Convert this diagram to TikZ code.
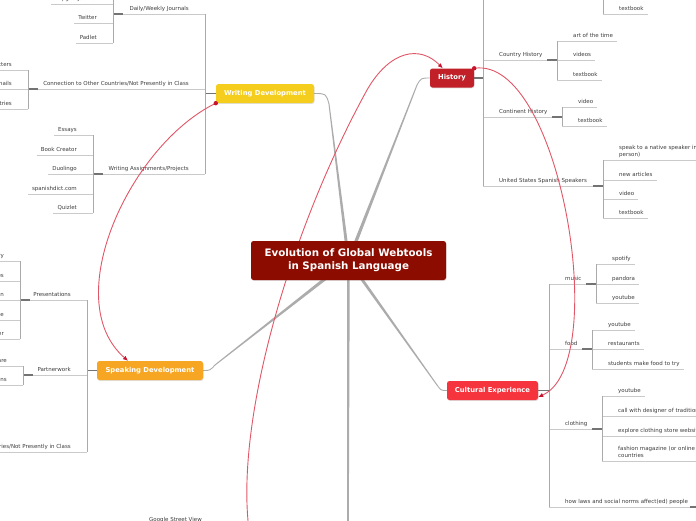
\documentclass[tikz,border=0pt]{standalone}
\usepackage{fontspec}
\setmainfont{DejaVu Sans}
\usepackage{tikz}
\usetikzlibrary{arrows.meta,positioning,calc,shadows}
\pgfdeclarelayer{front}
\pgfsetlayers{main,front}

\definecolor{rootred}{RGB}{140,12,0}
\definecolor{histred}{RGB}{193,32,40}
\definecolor{writeyel}{RGB}{245,205,28}
\definecolor{speakorg}{RGB}{246,166,35}
\definecolor{cultred}{RGB}{246,52,62}
\definecolor{relred}{RGB}{224,86,102}
\definecolor{dotred}{RGB}{200,20,45}
\definecolor{linkgray}{RGB}{172,172,172}
\definecolor{ulgray}{RGB}{202,202,202}
\definecolor{spinegray}{RGB}{170,170,170}
\definecolor{juncgray}{RGB}{115,115,115}
\definecolor{leafgray}{RGB}{60,60,60}

\tikzset{
  leaf/.style={inner xsep=4pt,inner ysep=0pt,text height=4pt,text depth=3.6pt,
    align=left,text=leafgray,font=\fontsize{5.5}{6.8}\selectfont},
  uline/.style={draw=ulgray,line width=0.8pt},
  spine/.style={draw=spinegray,line width=0.8pt},
  junc/.style={draw=juncgray,line width=1.1pt},
  topic/.style={rounded corners=2.5pt,minimum height=19pt,inner sep=0pt,text=white,
    font=\fontsize{6.8}{8}\selectfont\bfseries,
    drop shadow={shadow xshift=0.5pt,shadow yshift=-0.9pt,opacity=0.25}},
  rootbox/.style={topic,fill=rootred,minimum width=195pt,minimum height=39pt,
    align=center,font=\fontsize{10.3}{12.8}\selectfont\bfseries},
  relation/.style={draw=relred,line width=0.9pt,
    -{Latex[length=5pt,width=4.5pt,color=dotred]}},
}

% leaf on the right / left of a spine: name, spine, y, text
\newcommand{\rleaf}[4]{%
  \node[leaf,anchor=south west,xshift=12pt] (#1) at (#2 |- 0,#3) {#4};
  \draw[uline] (#2 |- #1.south) -- (#1.south east);}
\newcommand{\lleaf}[4]{%
  \node[leaf,anchor=south east,xshift=-12pt] (#1) at (#2 |- 0,#3) {#4};
  \draw[uline] (#1.south west) -- (#2 |- #1.south);}
% subtopic: name, parent spine, child spine, y, text
\newcommand{\rsub}[5]{%
  \node[leaf,anchor=south west,xshift=12pt] (#1) at (#2 |- 0,#4) {#5};
  \draw[uline] (#2 |- #1.south) -- (#3 |- #1.south);
  \draw[junc] ($(#3 |- #1.south)+(-10,0)$) -- (#3 |- #1.south);}
\newcommand{\lsub}[5]{%
  \node[leaf,anchor=south east,xshift=-12pt] (#1) at (#2 |- 0,#4) {#5};
  \draw[uline] (#3 |- #1.south) -- (#2 |- #1.south);
  \draw[junc] (#3 |- #1.south) -- ($(#3 |- #1.south)+(10,0)$);}
% tapered link: from, to, half width at start, half width at end
\newcommand{\taper}[4]{%
  \fill[linkgray] ($(#1)!#3!90:(#2)$) -- ($(#2)!#4!-90:(#1)$)
    -- ($(#2)!#4!90:(#1)$) -- ($(#1)!#3!-90:(#2)$) -- cycle;}

\begin{document}
\begin{tikzpicture}[x=1pt,y=-1pt]
  \useasboundingbox (0,0) rectangle (696,520);

  % Main topics
  \begin{pgfonlayer}{front}
    \node[rootbox] (root) at (348.5,260.5) {Evolution of Global Webtools\\in Spanish Language};
    \node[topic,fill=writeyel,minimum width=98pt] (write) at (265,93.5) {Writing Development};
    \node[topic,fill=speakorg,minimum width=106pt] (speak) at (150,370.5) {Speaking Development};
    \node[topic,fill=histred,minimum width=44pt] (hist) at (452,78) {History};
    \node[topic,fill=cultred,minimum width=91pt] (cult) at (492.5,390.5) {Cultural Experience};
  \end{pgfonlayer}

  % Main links
  \coordinate (kW) at (329,104);
  \coordinate (kH) at (417,85);
  \coordinate (kS) at (215,365);
  \coordinate (kC) at (437,385);
  \coordinate (down) at (348,525);
  \taper{root.center}{kW}{1.6pt}{0.5pt}
  \taper{root.center}{kH}{1.8pt}{0.5pt}
  \taper{root.center}{kS}{1.8pt}{0.5pt}
  \taper{root.center}{kC}{1.6pt}{0.5pt}
  \taper{root.center}{down}{1.3pt}{0.8pt}
  \draw[linkgray,line width=0.9pt] (kW) .. controls (326,93.5) .. (write.east);
  \draw[linkgray,line width=0.9pt] (kH) .. controls (421,78) .. (hist.west);
  \draw[linkgray,line width=0.9pt] (kS) .. controls (210,370.5) .. (speak.east);
  \draw[linkgray,line width=0.9pt] (kC) .. controls (441,390.5) .. (cult.west);

  % Writing Development
  \coordinate (W) at (205,93.5);
  \coordinate (wdx) at (113,0);
  \coordinate (wcx) at (28,0);
  \coordinate (wax) at (93,0);
  \draw[junc] (write.west) -- (W);
  \lsub{wd}{W}{wdx}{14}{Daily/Weekly Journals}
  \lsub{wc}{W}{wcx}{89}{Connection to Other Countries/Not Presently in Class}
  \lsub{wa}{W}{wax}{174}{Writing Assignments/Projects}
  \draw[spine] (W |- wd.south) -- (W |- wa.south);
  \foreach \n/\y/\txt in {1/4/Flipgrid Journal,2/23/Twitter,3/43/Padlet}
    {\lleaf{wd\n}{wdx}{\y}{\txt}}
  \draw[spine] (wdx |- 0,-16) -- (wdx |- wd3.south);
  \foreach \n/\y/\txt in {1/70/Letters,2/89/Emails,3/109/Countries}
    {\lleaf{wc\n}{wcx}{\y}{\txt}}
  \draw[spine] (wcx |- wc1.south) -- (wcx |- wc3.south);
  \foreach \n/\y/\txt in {1/135/Essays,2/155/Book Creator,3/174/Duolingo,4/194/spanishdict.com,5/213/Quizlet}
    {\lleaf{wa\n}{wax}{\y}{\txt}}
  \draw[spine] (wax |- wa1.south) -- (wax |- wa5.south);

  % Speaking Development
  \coordinate (S) at (87,370.5);
  \coordinate (spx) at (20,0);
  \coordinate (swx) at (23,0);
  \coordinate (gsx) at (218,0);
  \draw[junc] (speak.west) -- (S);
  \lsub{sp}{S}{spx}{300}{Presentations}
  \lsub{sw}{S}{swx}{375}{Partnerwork}
  \lleaf{sc}{S}{452}{Connection to Other Countries/Not Presently in Class}
  \draw[spine] (S |- sp.south) -- (S |- sc.south);
  \foreach \n/\y/\txt in {1/261/Storyboard Summary,2/281/Google Slides,3/300/Powtoon Animation,4/320/Adobe Spark Page,5/339/Voice Recorder}
    {\lleaf{sp\n}{spx}{\y}{\txt}}
  \draw[spine] (spx |- sp1.south) -- (spx |- sp5.south);
  \foreach \n/\y/\txt in {1/366/Think-Pair-Share,2/385/Conversations}
    {\lleaf{sw\n}{swx}{\y}{\txt}}
  \draw[spine] (swx |- sw1.south) -- (swx |- sw2.south);
  \lleaf{gsv}{gsx}{525}{Google Street View}

  % History
  \coordinate (H) at (483,78);
  \coordinate (htx) at (603,0);
  \coordinate (hcx) at (557,0);
  \coordinate (hnx) at (562,0);
  \coordinate (hux) at (603,0);
  \draw[junc] (hist.east) -- (H);
  \rsub{hc}{H}{hcx}{60}{Country History}
  \rsub{hn}{H}{hnx}{117}{Continent History}
  \rsub{hu}{H}{hux}{186}{United States Spanish Speakers}
  \draw[spine] (H |- 0,-5) -- (H |- hu.south);
  \rleaf{ht1}{htx}{14}{textbook}
  \draw[spine] (htx |- 0,-5) -- (htx |- ht1.south);
  \foreach \n/\y/\txt in {1/41/art of the time,2/60/videos,3/80/textbook}
    {\rleaf{hc\n}{hcx}{\y}{\txt}}
  \draw[spine] (hcx |- hc1.south) -- (hcx |- hc3.south);
  \foreach \n/\y/\txt in {1/107/video,2/126/textbook}
    {\rleaf{hn\n}{hnx}{\y}{\txt}}
  \draw[spine] (hnx |- hn1.south) -- (hnx |- hn2.south);
  \rleaf{hu1}{hux}{160}{speak to a native speaker in\\person)}
  \foreach \n/\y/\txt in {2/180/new articles,3/199/video,4/218/textbook}
    {\rleaf{hu\n}{hux}{\y}{\txt}}
  \draw[spine] (hux |- hu1.south) -- (hux |- hu4.south);

  % Cultural Experience
  \coordinate (C) at (549,390.5);
  \coordinate (cmx) at (596,0);
  \coordinate (cfx) at (592,0);
  \coordinate (ccx) at (602,0);
  \coordinate (clx) at (700,0);
  \draw[junc] (cult.east) -- (C);
  \rsub{cm}{C}{cmx}{284}{music}
  \rsub{cf}{C}{cfx}{349}{food}
  \rsub{cc}{C}{ccx}{429}{clothing}
  \rsub{cl}{C}{clx}{507}{how laws and social norms affect(ed) people}
  \draw[spine] (C |- cm.south) -- (C |- cl.south);
  \foreach \n/\y/\txt in {1/264/spotify,2/284/pandora,3/303/youtube}
    {\rleaf{cm\n}{cmx}{\y}{\txt}}
  \draw[spine] (cmx |- cm1.south) -- (cmx |- cm3.south);
  \foreach \n/\y/\txt in {1/330/youtube,2/349/restaurants,3/369/students make food to try}
    {\rleaf{cf\n}{cfx}{\y}{\txt}}
  \draw[spine] (cfx |- cf1.south) -- (cfx |- cf3.south);
  \foreach \n/\y/\txt in {1/396/youtube,2/416/call with designer of traditional clothing,3/436/explore clothing store websites}
    {\rleaf{cc\n}{ccx}{\y}{\txt}}
  \rleaf{cc4}{ccx}{461}{fashion magazine (or online version) from other\\countries}
  \draw[spine] (ccx |- cc1.south) -- (ccx |- cc4.south);

  % Relations
  \coordinate (bot) at (249,530);
  \draw[relation] (write.south west) .. controls (130,145) and (58,300) .. ([xshift=-22pt]speak.north);
  \draw[relation] (hist.north east) .. controls (560,55) and (612,365) .. ([yshift=-6.5pt]cult.east);
  \draw[relation] (bot) .. controls (235,420) and (290,230) .. (367,90)
    .. controls (390,50) and (420,45) .. ([xshift=13pt]hist.north west);
  \begin{pgfonlayer}{front}
    \fill[dotred] (write.south west) circle (2.2pt);
    \fill[dotred] (hist.north east) circle (2.2pt);
  \end{pgfonlayer}
\end{tikzpicture}
\end{document}
